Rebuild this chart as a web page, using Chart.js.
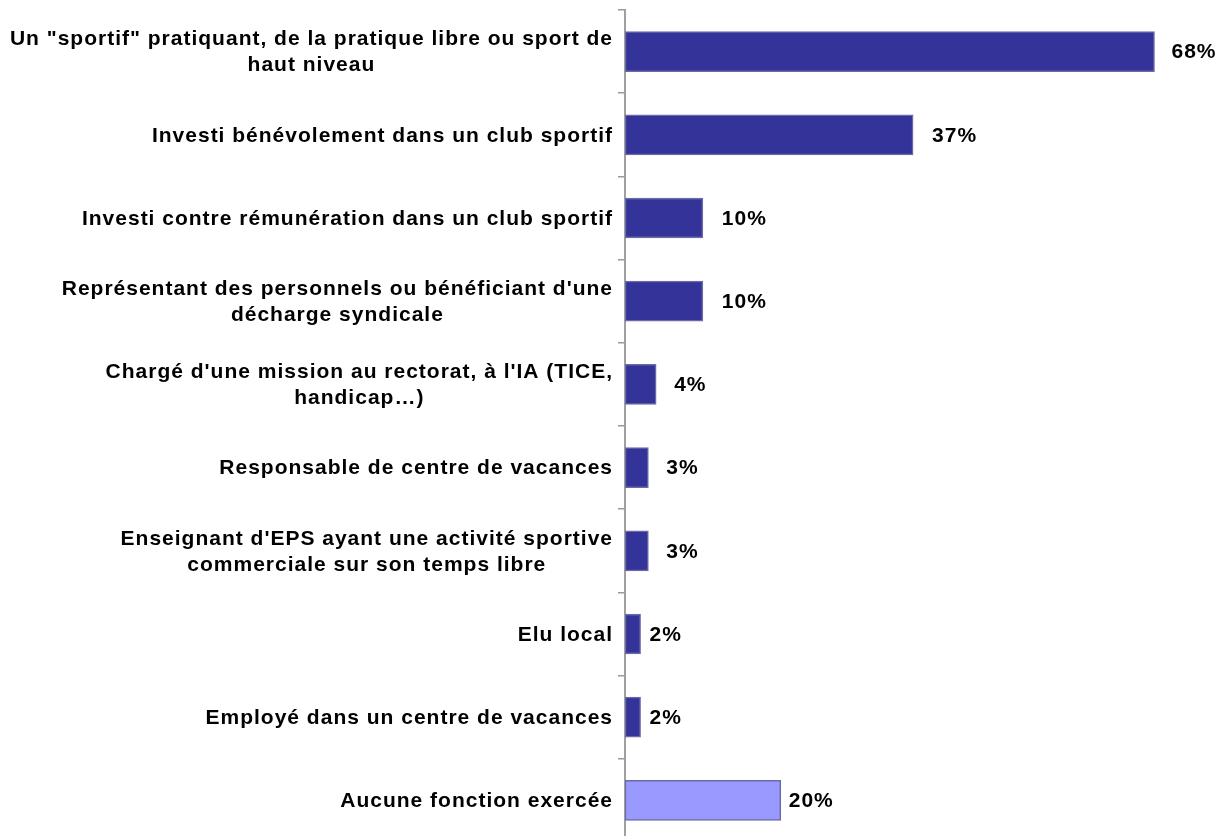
<!DOCTYPE html>
<html>
<head>
<meta charset="utf-8">
<script src="https://cdn.jsdelivr.net/npm/chart.js@4/dist/chart.umd.min.js"></script>
<style>
  html, body { margin: 0; background: #fff; overflow: hidden; }
  #wrap { width: 1225px; height: 842px; }
</style>
</head>
<body>
<div id="wrap"><canvas id="fonctionsChart"></canvas></div>
<script>
const categories = [
    ['Un "sportif" pratiquant, de la pratique libre ou sport de', 'haut niveau'],
    ['Investi bénévolement dans un club sportif'],
    ['Investi contre rémunération dans un club sportif'],
    ["Représentant des personnels ou bénéficiant d'une", 'décharge syndicale'],
    ["Chargé d'une mission au rectorat, à l'IA (TICE,", 'handicap…)'],
    ['Responsable de centre de vacances'],
    ["Enseignant d'EPS ayant une activité sportive", 'commerciale sur son temps libre'],
    ['Elu local'],
    ['Employé dans un centre de vacances'],
    ['Aucune fonction exercée']
];
const values = [68, 37, 10, 10, 4, 3, 3, 2, 2, 20];
const valueLabels = ['68%', '37%', '10%', '10%', '4%', '3%', '3%', '2%', '2%', '20%'];

const barColors = values.map((v, i) => i === values.length - 1 ? '#9999FF' : '#333399');
const labelFont = 'bold 21px "Liberation Sans", Arial, sans-serif';
const labelSpacing = '1px';

// étiquettes des catégories : bloc aligné à droite, lignes centrées entre elles
const categoryLabels = {
    id: 'categoryLabels',
    afterDraw(chart) {
        const c = chart.ctx;
        const y = chart.scales.y;
        const right = y.right - 12;
        c.save();
        c.font = labelFont;
        c.letterSpacing = labelSpacing;
        c.fillStyle = '#000';
        c.textAlign = 'center';
        c.textBaseline = 'middle';
        categories.forEach((lines, i) => {
            const cy = y.getPixelForValue(i) + 1;
            const widest = Math.max(...lines.map(l => c.measureText(l).width));
            const cx = right - widest / 2;
            const lh = 26;
            lines.forEach((l, j) => {
                c.fillText(l, cx, cy + (j - (lines.length - 1) / 2) * lh);
            });
        });
        c.restore();
    }
};

// pourcentages au bout des barres
const valueTags = {
    id: 'valueTags',
    afterDatasetsDraw(chart) {
        const c = chart.ctx;
        const meta = chart.getDatasetMeta(0);
        const gaps = [17, 19, 19, 19, 18, 18, 18, 9, 9, 8];
        c.save();
        c.font = labelFont;
        c.letterSpacing = labelSpacing;
        c.fillStyle = '#000';
        c.textAlign = 'left';
        c.textBaseline = 'middle';
        meta.data.forEach((bar, i) => {
            c.fillText(valueLabels[i], bar.x + gaps[i], bar.y + 1);
        });
        c.restore();
    }
};

function createFonctionsChart() {
    const ctx = document.getElementById('fonctionsChart');
    if (!ctx) return;
    new Chart(ctx, {
        type: 'bar',
        data: {
            labels: categories,
            datasets: [{
                data: values,
                backgroundColor: barColors,
                borderColor: '#6A6AA8',
                borderWidth: 1.5,
                borderSkipped: false,
                barThickness: 40
            }]
        },
        options: {
            indexAxis: 'y',
            responsive: true,
            maintainAspectRatio: false,
            animation: false,
            layout: { padding: { top: 10, bottom: 0, right: 16 } },
            plugins: {
                legend: { display: false },
                tooltip: { enabled: false }
            },
            scales: {
                x: {
                    display: false,
                    min: 0,
                    max: 75
                },
                y: {
                    afterFit(scale) { scale.width = 625; },
                    ticks: { display: false },
                    grid: {
                        offset: true,
                        drawOnChartArea: false,
                        drawTicks: true,
                        tickLength: 7,
                        color: '#999999',
                        lineWidth: 1.5
                    },
                    border: { display: true, color: '#A0A0A0', width: 2 }
                }
            }
        },
        plugins: [categoryLabels, valueTags]
    });
}

document.addEventListener('DOMContentLoaded', () => {
    createFonctionsChart();
});
</script>
</body>
</html>
